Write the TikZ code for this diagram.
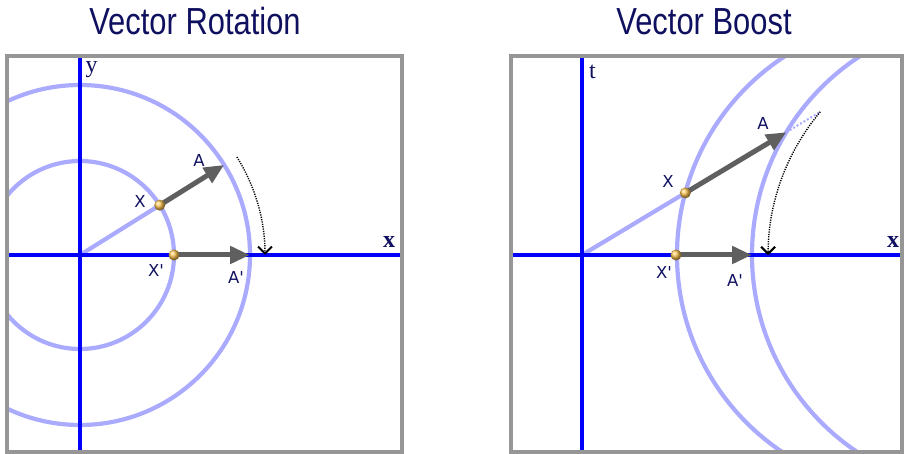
\documentclass[tikz,border=0pt]{standalone}
\usepackage{fontspec}
\setmainfont{Liberation Serif}
\newfontfamily\titlefont[FakeStretch=0.82]{Liberation Sans}
\newfontfamily\markfont{DejaVu Sans}
\usetikzlibrary{arrows.meta}

\begin{document}
\begin{tikzpicture}[x=1pt,y=1pt,
 ring/.style={draw=ring,line width=4.2pt},
 axisline/.style={draw=axisblue,line width=4.5pt},
 vec/.style={draw=vecgray,line width=5pt,-{Triangle[length=20pt,width=17pt]}},
 sweep/.style={draw=black,line width=1.4pt,dash pattern=on 1.2pt off 1.2pt,
  -{Straight Barb[length=7pt,width=14pt,line width=2pt]}},
 bead/.style={ball color=gold},
 ptlabel/.style={text=navy,font=\markfont\fontsize{16.5}{16.5}\selectfont,inner sep=0pt},
 axlabel/.style={text=navy,font=\fontsize{24}{24}\selectfont,inner sep=0pt},
 heading/.style={text=navy,font=\titlefont\fontsize{37.7}{40}\selectfont,inner sep=0pt,anchor=base},
 panel/.style={draw=framegray,line width=4pt}]
\definecolor{navy}{RGB}{16,16,96}
\definecolor{ring}{RGB}{170,170,255}
\definecolor{axisblue}{RGB}{0,0,250}
\definecolor{framegray}{RGB}{150,150,150}
\definecolor{vecgray}{RGB}{95,95,95}
\definecolor{gold}{RGB}{250,195,80}
\useasboundingbox (0,0) rectangle (905,454);
\node[heading] (rottitle) at (195,419) {Vector Rotation};
\node[heading] (boosttitle) at (704,419) {Vector Boost};

% Rotation: circles about the origin, radii 94 and 170.
\begin{scope}[shift={(80,199)}]
\coordinate (LO) at (0,0);
\coordinate (LX) at (32:94);
\coordinate (LA) at (32:170);
\coordinate (LXp) at (94,0);
\coordinate (LAp) at (170,0);
\begin{scope}
\clip (-73,-197) rectangle (322,199);
\draw[ring] (LO) circle (94);
\draw[ring] (LO) circle (170);
\end{scope}
\draw[ring] (LO)--(LX);
\draw[axisline] (-73,0)--(322,0);
\draw[axisline] (0,-197)--(0,199);
\draw[sweep] (32:185) arc[start angle=32,end angle=0,radius=185];
\draw[vec] (LX)--(LA);
\draw[vec] (LXp)--(LAp);
\shade[bead] (LX) circle (5.5);
\shade[bead] (LXp) circle (5.5);
\node[ptlabel] (lxl) at (60,54) {X};
\node[ptlabel] (lal) at (119,95) {A};
\node[ptlabel] (lxpl) at (76,-15) {X'};
\node[ptlabel] (lapl) at (156,-22) {A'};
\node[axlabel] (lyl) at (11.5,185.5) {y};
\node[axlabel,font=\bfseries\fontsize{24}{24}\selectfont] (lxal) at (309,13) {x};
\draw[panel] (-73,-197) rectangle (322,199);
\end{scope}

% Boost: the same vertices, the curves bend away to the right.
\begin{scope}[shift={(582,199)}]
\coordinate (RO) at (0,0);
\coordinate (RX) at (31:120.5);
\coordinate (RA) at (31:238.4);
\coordinate (RE) at (31:278);
\coordinate (RXp) at (94,0);
\coordinate (RAp) at (170,0);
\begin{scope}
\clip (-71,-197) rectangle (320,199);
\draw[ring] (332,0) circle (237);
\draw[ring] (407,0) circle (237);
\end{scope}
\draw[ring] (RO)--(RX);
\draw[ring,line width=2pt,dash pattern=on 2pt off 2pt] (RA)--(RE);
\draw[axisline] (-71,0)--(320,0);
\draw[axisline] (0,-197)--(0,199);
\draw[sweep] (RE) arc[start angle=140,end angle=180,radius=223];
\draw[vec] (RX)--(RA);
\draw[vec] (RXp)--(RAp);
\shade[bead] (RX) circle (5.5);
\shade[bead] (RXp) circle (5.5);
\node[ptlabel] (rxl) at (86,74) {X};
\node[ptlabel] (ral) at (181,132) {A};
\node[ptlabel] (rxpl) at (82,-17) {X'};
\node[ptlabel] (rapl) at (153,-25) {A'};
\node[axlabel] (rtl) at (10.5,183) {t};
\node[axlabel,font=\bfseries\fontsize{24}{24}\selectfont] (rxal) at (311,13) {x};
\draw[panel] (-71,-197) rectangle (320,199);
\end{scope}
\end{tikzpicture}
\end{document}
